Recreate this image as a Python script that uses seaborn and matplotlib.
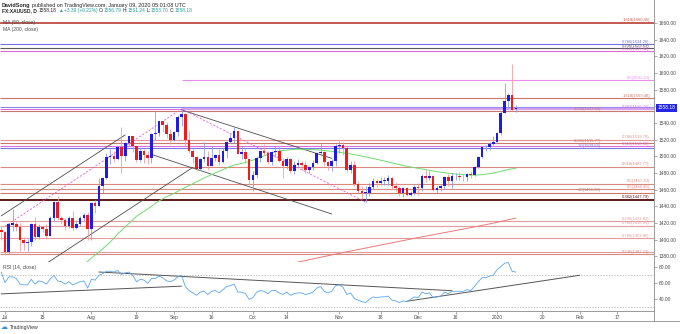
import matplotlib
matplotlib.use("Agg")
import matplotlib.pyplot as plt
from matplotlib import transforms
from matplotlib.lines import Line2D
from matplotlib.ticker import FuncFormatter
import numpy as np
import pandas as pd
import seaborn as sns

# ---------------- session calendar (FX daily: no bars on Dec 25 / Jan 1) ----------------
sessions = pd.bdate_range("2019-06-28", "2020-02-28")
sessions = sessions[~sessions.isin(pd.to_datetime(["2019-12-25", "2020-01-01"]))]


def pos(date):
    return sessions.get_loc(pd.Timestamp(date))


# ---------------- XAU/USD daily candles, 2019-06-28 .. 2020-01-09 ----------------
opens = [1412,
         1409, 1385, 1418, 1419, 1415, 1400, 1396, 1397, 1419, 1403, 1415, 1413, 1405, 1426, 1445, 1426, 1424, 1417, 1426, 1414, 1419, 1426, 1430,
         1413, 1444, 1441, 1464, 1474, 1499, 1500, 1497, 1511, 1500, 1516, 1524, 1513, 1496, 1507, 1502, 1498, 1527, 1528, 1542, 1538, 1527,
         1520, 1529, 1547, 1551, 1520, 1506, 1499, 1485, 1497, 1499, 1488, 1498, 1502, 1493, 1506, 1517, 1522, 1531, 1503, 1505, 1497,
         1472, 1478, 1498, 1506, 1504, 1493, 1505, 1506, 1494, 1489, 1497, 1482, 1490, 1492, 1490, 1484, 1487, 1492, 1504, 1505, 1493, 1488, 1495,
         1513, 1514, 1510, 1484, 1490, 1467, 1459, 1456, 1456, 1463, 1471, 1468, 1471, 1471, 1474, 1464, 1462, 1456, 1462, 1454, 1456,
         1463, 1462, 1477, 1474, 1476, 1460, 1462, 1465, 1475, 1470, 1476, 1476, 1475.5, 1475, 1479, 1478, 1487, 1499, 1511, 1511, 1515,
         1517, 1528, 1552, 1566, 1574, 1556.79]
highs = [1415,
         1411, 1420, 1437, 1421, 1420, 1403, 1401, 1420, 1427, 1419, 1418, 1419, 1428, 1446, 1453, 1428, 1426, 1429, 1434, 1424, 1428, 1432, 1433,
         1444, 1448, 1474, 1475, 1504, 1509, 1507, 1513, 1535, 1517, 1525, 1524, 1513, 1510, 1509, 1506, 1528, 1555, 1543, 1542, 1541, 1533,
         1531, 1550, 1557, 1552, 1530, 1510, 1500, 1498, 1517, 1506, 1512, 1503, 1509, 1510, 1518, 1527, 1535, 1532, 1513, 1510, 1497,
         1483, 1500, 1507, 1515, 1506, 1507, 1512, 1512, 1498, 1499, 1498, 1495, 1497, 1495, 1494, 1489, 1496, 1505, 1516, 1507, 1494, 1497, 1515,
         1518, 1517, 1512, 1494, 1495, 1470, 1464, 1464, 1468, 1474, 1473, 1475, 1475, 1478, 1475, 1469, 1464, 1463, 1463, 1458, 1466,
         1468, 1479, 1484, 1482, 1478, 1465, 1467, 1476, 1479, 1480, 1480, 1481, 1479, 1480, 1482, 1488, 1500, 1513, 1514, 1517, 1524,
         1529, 1554, 1588, 1576, 1611, 1561.24]
lows = [1400,
        1382, 1383, 1411, 1411, 1386, 1388, 1386, 1393, 1400, 1401, 1409, 1401, 1404, 1422, 1424, 1419, 1412, 1414, 1412, 1413, 1416, 1422, 1400,
        1400, 1432, 1440, 1456, 1473, 1491, 1493, 1496, 1480, 1494, 1512, 1505, 1493, 1493, 1492, 1491, 1492, 1520, 1525, 1529, 1522, 1515,
        1518, 1525, 1537, 1512, 1504, 1492, 1484, 1484, 1493, 1484, 1488, 1494, 1490, 1492, 1498, 1516, 1516, 1503, 1497, 1492, 1467,
        1459, 1474, 1493, 1502, 1491, 1490, 1499, 1493, 1474, 1485, 1480, 1479, 1487, 1484, 1480, 1480, 1484, 1491, 1500, 1488, 1484, 1483, 1489,
        1504, 1502, 1481, 1480, 1464, 1456, 1449, 1445, 1453, 1461, 1463, 1466, 1466, 1466, 1461, 1458, 1452, 1451, 1452, 1453, 1454,
        1454, 1459, 1469, 1472, 1458, 1456, 1459, 1461, 1465, 1462, 1472, 1472, 1471, 1470, 1474, 1476, 1486, 1498, 1506, 1508, 1514,
        1517, 1526, 1552, 1558, 1555, 1553.70]
closes = [1409,
          1385, 1419, 1419.5, 1415, 1400, 1396, 1397, 1419, 1403, 1415, 1413, 1405, 1426, 1445, 1426, 1424, 1417, 1426, 1414, 1419, 1426, 1430, 1413,
          1444, 1441, 1464, 1474, 1499, 1500, 1497, 1511, 1500, 1516, 1524, 1513, 1496, 1507, 1502, 1498, 1527, 1528, 1542, 1538, 1527, 1520,
          1529, 1547, 1551, 1520, 1506, 1499, 1485, 1497, 1499, 1488, 1498, 1502, 1493, 1506, 1517, 1522, 1531, 1503, 1505, 1497, 1472,
          1478, 1498, 1506, 1504, 1493, 1505, 1506, 1494, 1489, 1497, 1482, 1490, 1492, 1490, 1484, 1487, 1492, 1504, 1505, 1493, 1488, 1495, 1513,
          1514, 1510, 1484, 1490, 1467, 1459, 1456, 1456.5, 1463, 1471, 1468, 1471, 1471.5, 1474, 1464, 1462, 1456, 1462, 1454, 1456, 1463,
          1462, 1477, 1474, 1476, 1460, 1462, 1465, 1475, 1470, 1476, 1476.5, 1475.5, 1475, 1479, 1478, 1487, 1499, 1511, 1511.5, 1515, 1517,
          1528, 1552, 1566, 1574, 1556, 1558.18]

# 50-day simple moving average (from 2019-07-29)
ma50_start = "2019-07-29"
ma50 = [1367, 1370.5, 1374, 1378, 1381.5, 1385, 1389, 1393, 1397, 1402,
        1407, 1411, 1415.5, 1419.5, 1423.5, 1428, 1431, 1434, 1437, 1440,
        1443.5, 1446.5, 1449, 1451.5, 1453.5, 1455.5, 1458, 1460.5, 1462.5, 1465,
        1467, 1469.5, 1471.5, 1474, 1476, 1478, 1480, 1482, 1484, 1486,
        1488, 1489.5, 1490.5, 1491.5, 1492.5, 1494, 1495.5, 1497, 1499, 1500.5,
        1502.5, 1504, 1505.5, 1506.5, 1507, 1507.5, 1508, 1508.3, 1508.5, 1508.6,
        1508.5, 1508.3, 1508, 1507.8, 1507.5, 1507, 1506.5, 1506, 1505.5, 1505,
        1504.2, 1503.5, 1502.8, 1502, 1501.2, 1500.3, 1499.4, 1498.4, 1497.4, 1496.4,
        1495.4, 1494.4, 1493.3, 1492.2, 1491.1, 1490, 1489, 1488, 1487.2, 1486.4,
        1485.6, 1484.8, 1484, 1483.2, 1482.4, 1481.7, 1481, 1480.4, 1479.8, 1479.3,
        1478.8, 1478.4, 1478, 1477.7, 1477.5, 1477.5, 1477.6, 1478, 1478.5, 1479.2,
        1480, 1480.9, 1482, 1483.1, 1484.2, 1485, 1485.7]

# 200-day simple moving average (from 2019-10-15)
ma200_start = "2019-10-15"
ma200 = [1371.2, 1372.2, 1373.1, 1374.1, 1375.0, 1376.0, 1376.9, 1377.9, 1378.8, 1379.8,
         1380.7, 1381.7, 1382.6, 1383.6, 1384.5, 1385.4, 1386.3, 1387.2, 1388.1, 1389.0,
         1389.9, 1390.8, 1391.7, 1392.6, 1393.5, 1394.4, 1395.3, 1396.2, 1397.1, 1398.0,
         1398.9, 1399.8, 1400.7, 1401.6, 1402.5, 1403.4, 1404.2, 1405.1, 1405.9, 1406.8,
         1407.6, 1408.5, 1409.3, 1410.2, 1411.0, 1411.9, 1412.7, 1413.6, 1414.4, 1415.3,
         1416.2, 1417.1, 1418.0, 1418.9, 1419.8, 1420.8, 1421.8, 1422.9, 1423.9, 1424.9, 1425.9]

# RSI(14) from 2019-06-28
rsi = [74, 61, 68, 68, 66, 59, 58, 58, 65, 59,
       63, 62, 59, 65, 70, 63, 62, 59, 62, 58,
       60, 62, 63, 54, 65, 64, 70, 72, 75, 75,
       74, 76, 71, 73, 74, 70, 62, 65, 64, 60,
       66, 66, 69, 67, 63, 62, 64, 68, 70, 56,
       51, 48, 45, 49, 50, 46, 50, 51, 48, 52,
       56, 57, 59, 49, 49, 47, 40, 42, 49, 51,
       50, 47, 51, 51, 48, 46, 49, 45, 47, 48,
       48, 46, 47, 49, 54, 56, 50, 48, 50, 57,
       58, 55, 46, 48, 41, 39, 37, 36, 40, 43,
       42, 43, 43, 44, 39, 38, 36, 38, 37, 40,
       43, 42, 49, 47, 48, 42, 43, 44, 49, 47,
       50, 50, 50, 50, 52, 51, 56, 62, 67, 67,
       69, 70, 77, 81, 85, 86, 75, 74]

# Fibonacci levels drawn on the chart
level_prices = [1660.45, 1634.26, 1629.69, 1625.82, 1591.20, 1569.48, 1559.62, 1556.74, 1553.83,
                1519.78, 1515.77, 1512.30, 1509.64, 1487.77, 1467.29, 1460.30, 1456.58, 1447.79,
                1421.82, 1416.99, 1401.86, 1385.10, 1382.23]
level_ratios = ["1.618", "0.786", "0.236", "0.618", "0.5", "1.618", "", "0.382", "0.236",
                "0.786", "0.236", "0.618", "1.0", "0.618", "0.5", "0.5", "1.0", "0.382",
                "0.236", "0.786", "0.786", "", "0.236"]
level_from = [None, None, None, None, "2019-09-04", None, None, None, None,
              None, None, None, None, None, None, None, None, None,
              None, None, None, None, None]
swing_high_date = "2019-09-04"

# trend lines: (date, value) anchor pairs
price_channel = [(("2019-06-28", 1428.6), ("2019-08-14", 1525.7)),
                 (("2019-07-16", 1371.4), ("2019-09-09", 1486.7)),
                 (("2019-09-04", 1555.7), ("2019-10-30", 1497.6)),
                 (("2019-08-23", 1502.3), ("2019-10-30", 1430.8))]
fib_path = [("2019-07-01", 1416), ("2019-09-04", 1557), ("2019-11-12", 1445)]
rsi_trends = [(("2019-06-28", 46.8), ("2019-09-04", 56.4)),
              (("2019-08-05", 74.1), ("2019-12-13", 50.75)),
              (("2019-11-27", 37.6), ("2020-02-03", 70.0))]

tick_dates = ["2019-07-01", "2019-07-15", "2019-08-01", "2019-08-19", "2019-09-02", "2019-09-16",
              "2019-10-01", "2019-10-14", "2019-11-01", "2019-11-18", "2019-12-02", "2019-12-16",
              "2020-01-02", "2020-01-20", "2020-02-03", "2020-02-17"]
tick_labels = ["Jul", "15", "Aug", "19", "Sep", "16", "Oct", "14", "Nov", "18", "Dec", "16",
               "2020", "20", "Feb", "17"]
price_ticks = list(range(1380, 1661, 20))
rsi_ticks = [40, 60, 80]

# ---------------- styling ----------------
sns.set_theme(style="white")
plt.rcParams["font.family"] = ["Liberation Sans", "DejaVu Sans"]

BLUE, RED = "#1c1ce8", "#f01c1c"
BLUE_WICK, RED_WICK = "#8d9cf0", "#f29c9c"
AXIS_GRAY = "#8c8c8c"
TEXT_GRAY = "#4a4a4a"
level_colors = ["#c25a52", "#6f6fe6", "#5a5a5a", "#e066d6", "#ee8cee", "#c9786c", "#8c8cf0", "#e070e0", "#c9786c",
                "#e49494", "#c9786c", "#e070e0", "#7a7aee", "#d88a80", "#d88a80", "#d88a80", "#c9786c", "#5c1a1a",
                "#e39c9c", "#e39c9c", "#e39c9c", "#e39c9c", "#d88a80"]
level_widths = [1.4, 0.8, 0.8, 0.8, 0.8, 0.8, 0.8, 0.8, 0.8,
                0.8, 0.8, 0.8, 0.8, 0.8, 0.8, 0.8, 0.8, 1.4,
                0.8, 0.8, 0.8, 0.8, 0.8]
# labels of tightly packed levels are staggered sideways (in bars) so they stay legible
label_shift = [0, 0, 0, 0, 0, 0, 0, 0, 13,
               0, 13, 0, 13, 0, 0, 0, 13, 0,
               0, 0, 0, 0, 0]

W, H = 680, 334
fig = plt.figure(figsize=(W / 100, H / 100), dpi=100)
fig.patch.set_facecolor("white")
ax = fig.add_axes([0, 1 - 262 / H, 654 / W, 262 / H])
rax = fig.add_axes([0, 1 - 311 / H, 654 / W, 49 / H], sharex=ax)

x_lo, x_hi = -0.331, 173.79
ax.set_xlim(x_lo, x_hi)
ax.set_ylim(1373.2, 1687.6)
rax.set_ylim(25.4, 86.6)

for a in (ax, rax):
    a.set_facecolor("white")
    a.spines["top"].set_visible(False)
    a.spines["left"].set_visible(False)
    for s in ("right", "bottom"):
        a.spines[s].set_color(AXIS_GRAY)
        a.spines[s].set_linewidth(0.6)
    a.yaxis.tick_right()
    a.tick_params(axis="y", length=2, width=0.5, pad=1.5, labelsize=3.5,
                  color=AXIS_GRAY, labelcolor=TEXT_GRAY)
    a.grid(False)

# ---------------- horizontal levels ----------------
label_x = x_hi - 1.1
for p, r, start, col, lw, sh in zip(level_prices, level_ratios, level_from, level_colors,
                                    level_widths, label_shift):
    x0 = x_lo if start is None else pos(start)
    ax.hlines(p, x0, x_hi, colors=col, linewidth=lw, zorder=1)
    if r:
        ax.text(label_x - sh, p + 0.6, f"{r}({p:.2f})", fontsize=3.0, color=col,
                ha="right", va="bottom", zorder=6)
hi_pos = pos(swing_high_date)
ax.hlines(highs[hi_pos], hi_pos, x_hi, colors="#d6a0ee", linewidth=1.5, zorder=1)

# ---------------- trend lines ----------------
for (d0, v0), (d1, v1) in price_channel:
    sns.lineplot(x=[pos(d0), pos(d1)], y=[v0, v1], ax=ax, color="#4d4d4d", linewidth=0.6, zorder=2)
fx = [pos(d) for d, _ in fib_path]
fy = [v for _, v in fib_path]
ax.plot(fx, fy, color="#e35ad6", linewidth=0.6, linestyle=(0, (2.5, 2)), zorder=2)

# ---------------- moving averages ----------------
m50_x = np.arange(len(ma50)) + pos(ma50_start)
m200_x = np.arange(len(ma200)) + pos(ma200_start)
sns.lineplot(x=m50_x, y=ma50, ax=ax, color="#6fdc6f", linewidth=0.7, zorder=2)
sns.lineplot(x=m200_x, y=ma200, ax=ax, color="#ec7a7a", linewidth=0.7, zorder=2)

# ---------------- candles ----------------
o, h, l, c = (np.asarray(v, dtype=float) for v in (opens, highs, lows, closes))
xs = np.arange(len(c))
up = c >= o
ax.vlines(xs, l, h, colors=np.where(up, BLUE_WICK, RED_WICK), linewidth=0.6, zorder=3)
ax.bar(xs, np.maximum(np.abs(c - o), 0.7), bottom=np.minimum(o, c), width=0.7,
       color=np.where(up, BLUE, RED), linewidth=0, zorder=4)

ax.set_yticks(price_ticks)
ax.yaxis.set_major_formatter(FuncFormatter(lambda v, _: f"{v:.2f}"))
ax.tick_params(axis="x", bottom=False, labelbottom=False)

# last price tag on the scale
blend = transforms.blended_transform_factory(ax.transAxes, ax.transData)
ax.text(1.0055, c[-1], f"{c[-1]:.2f}", transform=blend, ha="left", va="center",
        fontsize=3.5, color="white", clip_on=False, zorder=10,
        bbox=dict(boxstyle="square,pad=0.35", fc="#2525e6", ec="none"))

# ---------------- RSI pane ----------------
rsi_x = np.arange(len(rsi))
for lvl in (70, 30):
    rax.axhline(lvl, color="#a8a8a8", linewidth=0.5, linestyle=(0, (2, 2)), zorder=1)
for (d0, v0), (d1, v1) in rsi_trends:
    sns.lineplot(x=[pos(d0), pos(d1)], y=[v0, v1], ax=rax, color="#555555", linewidth=0.7, zorder=2)
sns.lineplot(x=rsi_x, y=rsi, ax=rax, color="#5aa6e8", linewidth=0.6, zorder=3)
rax.set_yticks(rsi_ticks)
rax.yaxis.set_major_formatter(FuncFormatter(lambda v, _: f"{v:.2f}"))
rax.set_xticks([pos(d) for d in tick_dates])
rax.set_xticklabels(tick_labels)
rax.tick_params(axis="x", bottom=True, length=2, width=0.5, pad=1.0, labelsize=3.5,
                color=AXIS_GRAY, labelcolor=TEXT_GRAY)
for a in (ax, rax):
    a.set_xlabel("")
    a.set_ylabel("")
rax.text(0.005, 1 - 5 / 49, "RSI (14, close)", transform=rax.transAxes, fontsize=3.6,
         color=TEXT_GRAY, ha="left", va="center")

# scale corner frame
fig.add_artist(Line2D([0, 1], [1 - 320.5 / H] * 2, transform=fig.transFigure, color=AXIS_GRAY, linewidth=0.6))
fig.add_artist(Line2D([654 / W] * 2, [1 - 311 / H, 1 - 320.5 / H], transform=fig.transFigure,
                      color=AXIS_GRAY, linewidth=0.6))

# ---------------- header / legend text ----------------
renderer = fig.canvas.get_renderer()


def text_run(px, py, pieces, size):
    x = px
    for s, color, weight, gap in pieces:
        t = fig.text(x / W, 1 - py / H, s, fontsize=size, color=color, fontweight=weight,
                     ha="left", va="center")
        x += t.get_window_extent(renderer).width + gap


DARK, TEAL = "#222222", "#2a9d9f"
text_run(2, 5, [("DavidSong", DARK, "bold", 1.3),
                ("published on TradingView.com, January 09, 2020 05:01:08 UTC", DARK, "normal", 0)], 3.9)
text_run(2, 10.8, [("FX:XAUUSD, D", DARK, "bold", 1.8),
                   ("1558.18", DARK, "normal", 1.1),
                   ("\u25b2", TEAL, "normal", 1.1),
                   ("+3.39 (+0.22%)", TEAL, "normal", 1.1),
                   ("O:", DARK, "normal", 0.2), ("1556.79", TEAL, "normal", 1.1),
                   ("H:", DARK, "normal", 0.2), ("1561.24", TEAL, "normal", 1.1),
                   ("L:", DARK, "normal", 0.2), ("1553.70", TEAL, "normal", 1.1),
                   ("C:", DARK, "normal", 0.2), ("1558.18", TEAL, "normal", 0)], 3.55)
fig.text(3 / W, 1 - 22.3 / H, "MA (50, close)", fontsize=3.6, color=TEXT_GRAY, ha="left", va="center")
fig.text(3 / W, 1 - 29 / H, "MA (200, close)", fontsize=3.6, color=TEXT_GRAY, ha="left", va="center")

# footer logo
fig.text(1 / W, 1 - 327 / H, "\u2601", fontsize=5, color="#2f8fe0", ha="left", va="center",
         family=["DejaVu Sans"])
fig.text(10 / W, 1 - 327 / H, "TradingView", fontsize=3.7, color="#333333", ha="left", va="center")

fig.savefig("out.png", dpi=100, facecolor="white")
